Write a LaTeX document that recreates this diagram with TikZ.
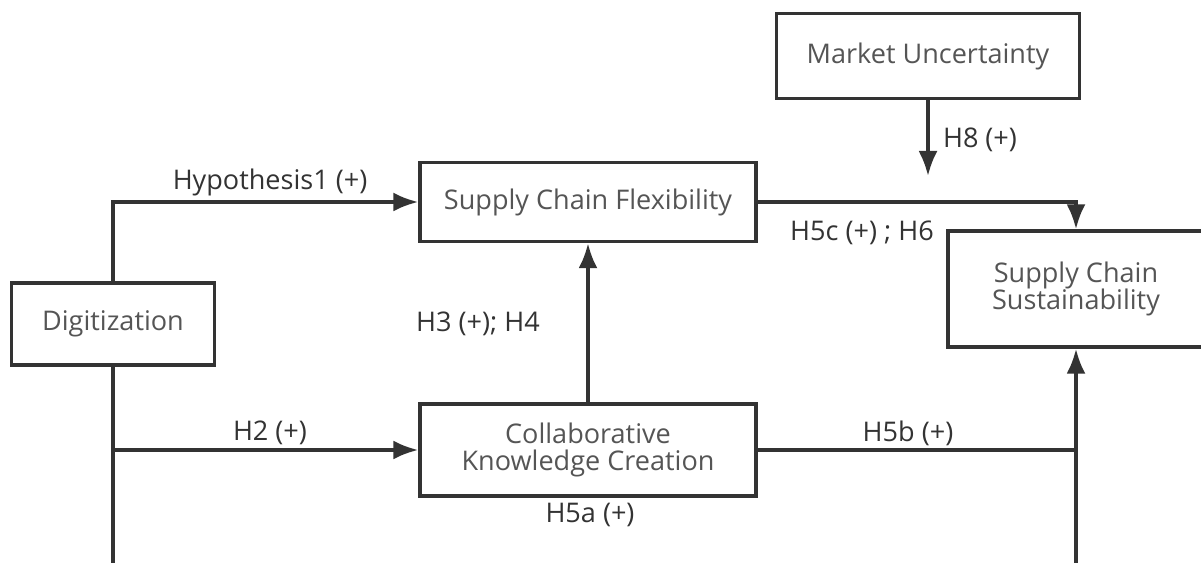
\documentclass[tikz,border=0pt]{standalone}
\usepackage{fontspec}
\setmainfont{Open Sans}
\usetikzlibrary{arrows.meta,positioning}
\definecolor{linegray}{HTML}{333333}
\definecolor{boxtext}{HTML}{555555}
\definecolor{labeltext}{HTML}{333333}

\begin{document}
\begin{tikzpicture}[
            x=0.02cm,y=-0.02cm,
            box/.style={draw=linegray,line width=2pt,rectangle,align=center,inner sep=0pt,
                        text=boxtext,font=\fontsize{15.4}{15.8}\selectfont},
            lbl/.style={text=labeltext,inner sep=0pt,font=\fontsize{15.4}{15.8}\selectfont},
            link/.style={draw=linegray,line width=2pt},
            >={Latex[length=5mm,width=3.8mm]}
        ]
        \useasboundingbox (0,0) rectangle (1201,563);

        % Draw boxes %
        \node[box,minimum width=4.06cm,minimum height=1.64cm] (digit) at (113,324) {Digitization};
        \node[box,minimum width=6.72cm,minimum height=1.58cm] (flex) at (588,202) {Supply Chain Flexibility};
        \node[box,minimum width=6.72cm,minimum height=1.84cm] (ckc) at (588,450) {Collaborative\\Knowledge Creation};
        \node[box,minimum width=6.06cm,minimum height=1.70cm] (market) at (928,56) {Market Uncertainty};
        \node[box,minimum width=5.12cm,minimum height=2.32cm] (susta) at (1076,289) {Supply Chain\\Sustainability};

        % Free ends %
        \coordinate (h2split) at (113,450);
        \coordinate (digitend) at (113,575);
        \coordinate (h8tip) at (928,176);
        \coordinate (h5bjoin) at (1076,450);
        \coordinate (sustaend) at (1076,575);

        % Draw arrows %
        \draw[link,->] (digit.north) |- (flex.west);
        \draw[link,->] (h2split) -- (ckc.west);
        \draw[link] (digit.south) -- (digitend);
        \draw[link,->] (ckc.north) -- (flex.south);
        \draw[link,->] (flex.east) -| (susta.north);
        \draw[link,->] (market.south) -- (h8tip);
        \draw[link] (ckc.east) -- (h5bjoin);
        \draw[link,->] (sustaend) -- (susta.south);

        % Labels %
        \node[lbl] (hyp1) at (270,182) {Hypothesis1 (+)};
        \node[lbl] (hyp2) at (270,433) {H2 (+)};
        \node[lbl] (hyp34) at (478,324) {H3 (+); H4};
        \node[lbl] (hyp5c) at (862,233) {H5c (+) ; H6};
        \node[lbl] (hyp8) at (980,140) {H8 (+)};
        \node[lbl] (hyp5b) at (908,433) {H5b (+)};
        \node[lbl] (hyp5a) at (590,515) {H5a (+)};
\end{tikzpicture}
\end{document}
